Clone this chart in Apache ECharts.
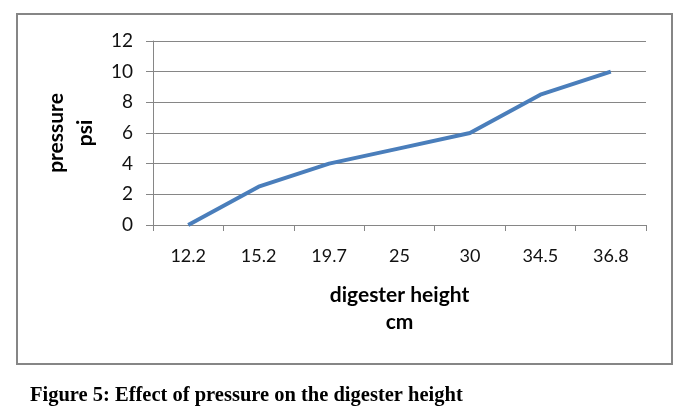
<!DOCTYPE html>
<html><head><meta charset="utf-8">
<script src="https://cdn.jsdelivr.net/npm/echarts@6/dist/echarts.min.js"></script>
<style>html,body{margin:0;padding:0;background:#fff}#c{width:691px;height:418px}</style>
</head><body><div id="c"></div>
<script>
var categories = ['12.2','15.2','19.7','25','30','34.5','36.8'];
var pressure = [0, 2.5, 4, 5, 6, 8.5, 10];
var yTicks = [0, 2, 4, 6, 8, 10, 12];
var chart = echarts.init(document.getElementById('c'), null, {renderer:'canvas'});
chart.setOption({
  animation:false,
  backgroundColor:'#fff',
  title:{text:'Figure 5: Effect of pressure on the digester height', left:25, top:380,
    textStyle:{fontFamily:'Liberation Serif', fontWeight:'bold', fontSize:20.5, color:'#000'}},
  graphic:[{type:'rect', shape:{x:17,y:14,width:655,height:350}, style:{fill:null, stroke:'#868686', lineWidth:2}, z:-1}],
  grid:{left:153, right:45, top:41, bottom:193},
  xAxis:{type:'category', data:categories, boundaryGap:true,
    axisLine:{lineStyle:{color:'#868686', width:1}},
    axisTick:{show:true, length:6, lineStyle:{color:'#868686'}},
    axisLabel:{fontFamily:'Lato', fontSize:18, color:'#111', margin:22},
    name:'digester height\ncm', nameLocation:'middle', nameGap:57,
    nameTextStyle:{fontFamily:'Lato', fontWeight:'bold', fontSize:21, color:'#000', lineHeight:27}},
  yAxis:{type:'value', min:yTicks[0], max:yTicks[yTicks.length-1], interval:yTicks[1]-yTicks[0],
    axisLine:{show:true, lineStyle:{color:'#868686', width:1}},
    axisTick:{show:true, length:7, lineStyle:{color:'#868686'}},
    splitLine:{lineStyle:{color:'#868686', width:1}},
    axisLabel:{fontFamily:'Lato', fontSize:19, color:'#111', margin:20},
    name:'pressure\npsi', nameLocation:'middle', nameGap:47, nameRotate:90,
    nameTextStyle:{fontFamily:'Lato', fontWeight:'bold', fontSize:21, color:'#000', lineHeight:29}},
  series:[{type:'line', data:pressure, showSymbol:false, symbol:'none',
    lineStyle:{color:'#4a7ebb', width:4}}]
});
</script></body></html>
